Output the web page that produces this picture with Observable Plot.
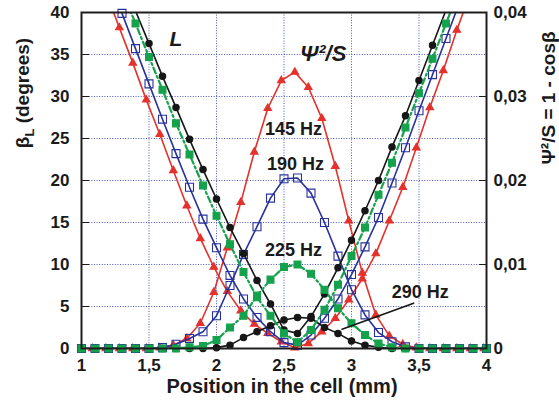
<!DOCTYPE html>
<html><head><meta charset="utf-8">
<script src="https://cdn.jsdelivr.net/npm/d3@7"></script>
<script src="https://cdn.jsdelivr.net/npm/@observablehq/plot@0.6"></script>
<style>
body{margin:0;background:#fff;}
#chart svg{display:block;}
</style></head><body><div id="chart"></div>
<script>
// ---- data ----
// Bell curves: Psi^2/S (right axis, 0 .. 0.04)
const bellPositions = [1.0,1.1,1.2,1.3,1.4,1.5,1.6,1.7,1.8,1.9,2.0,2.1,2.2,2.3,2.4,2.5,2.6,2.7,2.8,2.9,3.0,3.1,3.2,3.3,3.4,3.5,3.6,3.7,3.8,3.9,4.0];
const bellPositions145 = [1.08,1.18,1.28,1.38,1.48,1.58,1.68,1.78,1.88,1.98,2.08,2.18,2.28,2.38,2.48,2.58,2.68,2.78,2.88,2.98,3.08,3.18,3.28,3.38,3.48,3.58,3.68,3.78,3.88,3.98];
const psi145 = [0,0,0,0,0,0.0001,0.0004,0.0012,0.0030,0.0067,0.0120,0.0174,0.0234,0.0286,0.0319,0.0329,0.0311,0.0274,0.0217,0.0152,0.0090,0.0040,0.0015,0.0005,0.0001,0,0,0,0,0];
const psi190 = [0,0,0,0,0,0,0.0001,0.0005,0.0012,0.0020,0.0039,0.0075,0.0112,0.0145,0.0179,0.0202,0.0203,0.0185,0.0150,0.0110,0.0070,0.0040,0.0019,0.0008,0.0002,0,0,0,0,0,0];
const psi225 = [0,0,0,0,0,0,0,0,0.00015,0.0003,0.0010,0.0025,0.0039,0.0063,0.0082,0.0097,0.0100,0.0089,0.0070,0.0048,0.0030,0.0016,0.0006,0.00015,0,0,0,0,0,0,0];
const psi290 = [0,0,0,0,0,0,0,0,0,0,0.0001,0.0004,0.0013,0.0020,0.0027,0.0034,0.0037,0.0036,0.0025,0.0018,0.0009,0.0004,0.00015,0,0,0,0,0,0,0,0];

// V curves: beta_L in degrees (left axis)
const pos145V = [1.18,1.28,1.38,1.48,1.58,1.68,1.78,1.88,1.98,2.08,2.18,2.28,2.38,2.48,2.58,2.68,2.78,2.88,2.98,3.08,3.18,3.28,3.38,3.48,3.58,3.68,3.78,3.88];
const beta145 = [42.5,38.2,34.0,29.6,25.5,21.2,17.0,13.1,9.7,6.8,4.5,2.9,1.8,0.8,0.1,0.6,2.0,3.6,5.8,8.3,11.3,15.2,19.2,23.9,28.7,33.1,37.9,42.3];
const pos190V = [1.2,1.3,1.4,1.5,1.6,1.7,1.8,1.9,2.0,2.1,2.2,2.3,2.4,2.5,2.6,2.7,2.8,2.9,3.0,3.1,3.2,3.3,3.4,3.5,3.6,3.7,3.8];
const beta190 = [44.0,39.9,35.7,31.5,27.3,23.2,19.2,15.4,12.0,8.7,5.9,3.7,2.0,0.7,0.4,1.6,3.6,5.9,8.8,12.1,15.6,19.7,23.9,28.3,32.6,36.9,41.2];
const pos225V = [1.3,1.4,1.5,1.6,1.7,1.8,1.9,2.0,2.1,2.2,2.3,2.4,2.5,2.6,2.7,2.8,2.9,3.0,3.1,3.2,3.3,3.4,3.5,3.6,3.7,3.8];
const beta225 = [42.7,38.7,34.7,30.8,26.8,23.1,19.4,15.8,12.4,9.1,6.1,3.9,1.8,0.75,2.2,4.6,7.6,11.0,14.4,18.3,22.1,26.3,30.4,34.5,38.7,42.8];
const pos290V = [1.3,1.4,1.5,1.6,1.7,1.8,1.9,2.0,2.1,2.2,2.3,2.4,2.5,2.6,2.7,2.8,2.9,3.0,3.1,3.2,3.3,3.4,3.5,3.6,3.7,3.8];
const beta290 = [44.1,40.2,36.3,32.4,28.7,24.9,21.3,17.8,14.4,11.3,8.1,5.3,2.2,1.8,3.8,6.5,9.6,12.9,16.4,20.0,24.0,27.7,31.9,36.1,40.3,44.4];

// ticks
const xTicks = [1,1.5,2,2.5,3,3.5,4];
const yTicksLeft = [0,5,10,15,20,25,30,35,40];
const yTicksRight = [0,0.01,0.02,0.03,0.04];
const xGrid = [1.5,2,2.5,3,3.5];
const yGrid = [5,10,15,20,25,30,35];

// annotations
const freqLabels = ["145 Hz","190 Hz","225 Hz","290 Hz"];
const freqLabelX = [2.57,2.585,2.57,3.51];
const freqLabelY = [26.1,21.9,11.7,6.7];
const pointerX = [3.46,2.93];
const pointerY = [5.4,2.3];

// ---- build ----
const RATIO = 1000; // 0.04 on the right axis <-> 40 degrees on the left axis
const colors = {145:"#e5312c",190:"#28329c",225:"#14a24c",290:"#161616"};
const rowsOf = (xs, ys, k=1) => xs.map((x,i)=>({x, y: ys[i]*k}));

const series = [
  {f:145, V: rowsOf(pos145V,beta145), B: rowsOf(bellPositions145,psi145,RATIO), sym:"triangle", r:2.8, fill:colors[145], sw:1.6, dash:null},
  {f:190, V: rowsOf(pos190V,beta190), B: rowsOf(bellPositions,psi190,RATIO), sym:"square", r:4.5, fill:"none", sw:1.6, dash:null},
  {f:290, V: rowsOf(pos290V,beta290), B: rowsOf(bellPositions,psi290,RATIO), sym:"circle", r:3.2, fill:colors[290], sw:1.6, dash:null},
  {f:225, V: rowsOf(pos225V,beta225), B: rowsOf(bellPositions,psi225,RATIO), sym:"square", r:3.9, fill:colors[225], sw:2.2, dash:"6,3,2,3"}
];

const comma = d => String(d).replace(".", ",");
const fmtRight = d => d === 0 ? "0" : d.toFixed(2).replace(".", ",");

const marks = [
  Plot.gridX(xGrid, {stroke:"#2c3cb4", strokeOpacity:0.85, strokeWidth:1, strokeDasharray:"1,1.6"}),
  Plot.gridY(yGrid, {stroke:"#2c3cb4", strokeOpacity:0.85, strokeWidth:1, strokeDasharray:"1,1.6"})
];
for (const s of series) {
  for (const part of [s.V, s.B]) {
    marks.push(Plot.line(part, {x:"x", y:"y", stroke: colors[s.f], strokeWidth: s.sw, strokeDasharray: s.dash, clip: true}));
  }
  for (const part of [s.V, s.B]) {
    marks.push(Plot.dot(part.filter(d => d.y <= 40), {x:"x", y:"y", symbol: s.sym, r: s.r, fill: s.fill, stroke: colors[s.f], strokeWidth: 1.1}));
  }
}
marks.push(
  Plot.line(pointerX.map((x,i)=>({x, y: pointerY[i]})), {x:"x", y:"y", stroke:"#161616", strokeWidth:1.6}),
  Plot.text(freqLabels.map((t,i)=>({t, x: freqLabelX[i], y: freqLabelY[i]})), {x:"x", y:"y", text:"t", fontSize:18, fontWeight:"bold", fill:"#1a1a1a"}),
  Plot.text([{t:"L", x:1.70, y:36.8}], {x:"x", y:"y", text:"t", fontSize:21, fontWeight:"bold", fontStyle:"italic", fill:"#1a1a1a"}),
  Plot.text([{t:"Ψ²/S", x:2.79, y:35.1}], {x:"x", y:"y", text:"t", fontSize:22, fontWeight:"bold", fontStyle:"italic", fill:"#1a1a1a"}),
  Plot.axisX(xTicks, {tickSize:0, tickPadding:10, tickFormat: comma, label:null, fontSize:17, fontWeight:"bold"}),
  Plot.axisY(yTicksLeft, {anchor:"left", tickSize:-8, tickPadding:20, tickFormat: d=>String(d), label:null, fontSize:17, fontWeight:"bold"}),
  Plot.axisY(yTicksRight.map(v => v*RATIO), {anchor:"right", tickSize:-8, tickPadding:15, tickFormat: d => fmtRight(d/RATIO), label:null, fontSize:17, fontWeight:"bold"}),
  Plot.frame({stroke:"#1e1e1e", strokeWidth:2})
);

const plot = Plot.plot({
  width: 559, height: 406,
  marginLeft: 81, marginRight: 73, marginTop: 12, marginBottom: 58,
  x: {domain: [1,4]},
  y: {domain: [0,40]},
  style: {fontFamily: "'Liberation Sans', Arial, sans-serif", color: "#1a1a1a", background: "white", overflow: "visible"},
  marks
});

const svg = d3.select(plot);
const font = "bold 19px 'Liberation Sans', Arial, sans-serif";
const left = svg.append("text").attr("transform","translate(29,93) rotate(-90)").attr("text-anchor","middle").attr("fill","#1a1a1a").style("font", font);
left.append("tspan").text("β");
left.append("tspan").attr("font-size", 13).attr("dy", 5).text("L");
left.append("tspan").attr("dy", -5).text(" (degrees)");
svg.append("text").attr("transform","translate(555,98) rotate(-90)").attr("text-anchor","middle").attr("fill","#1a1a1a").style("font", font).text("Ψ²/S = 1 - cosβ");
svg.append("text").attr("x", 282).attr("y", 393).attr("text-anchor","middle").attr("fill","#1a1a1a").style("font", "bold 20px 'Liberation Sans', Arial, sans-serif").text("Position in the cell (mm)");

document.getElementById("chart").appendChild(plot);
</script>
</body></html>
